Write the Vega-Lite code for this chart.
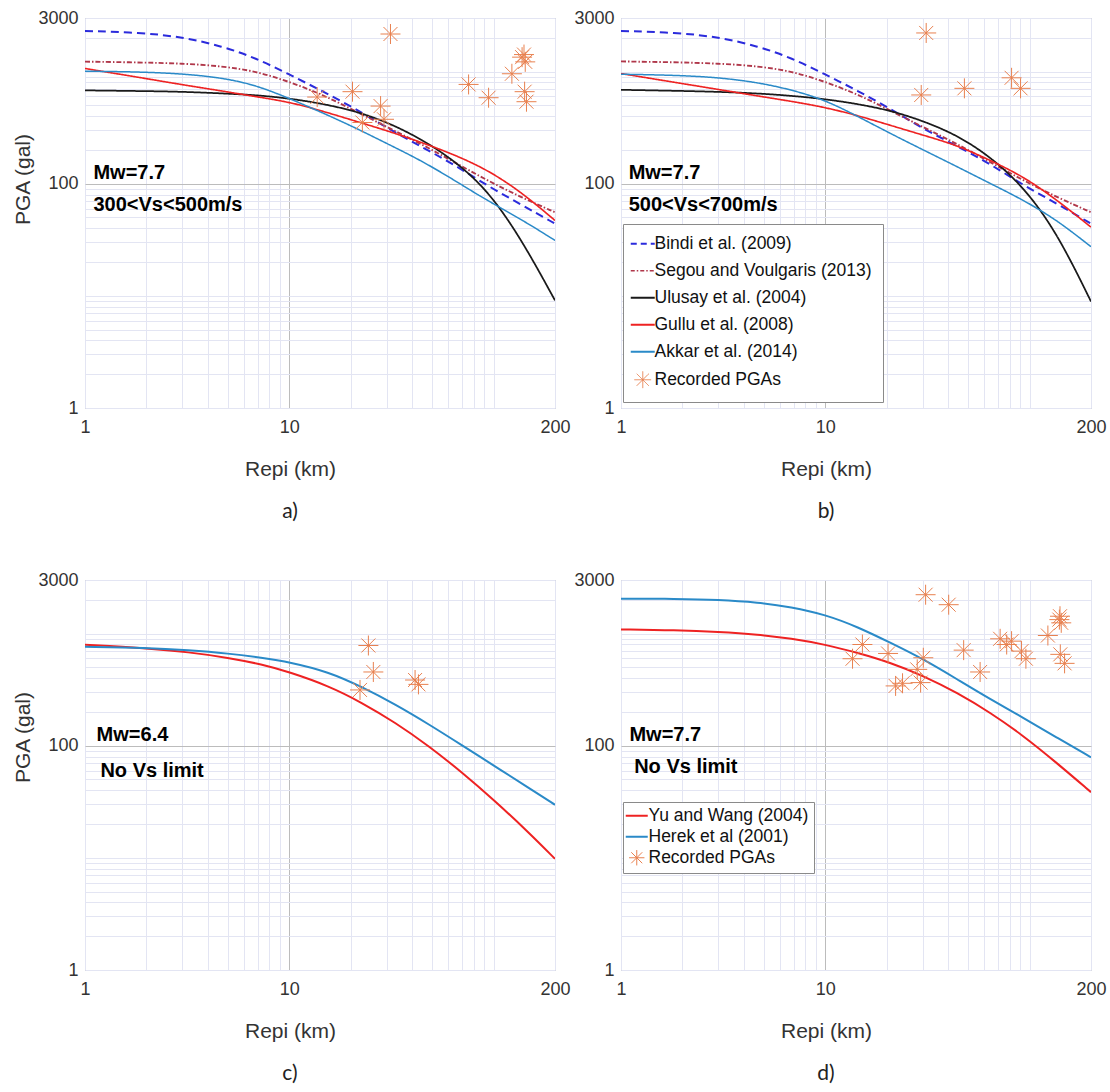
{
  "$schema": "https://vega.github.io/schema/vega-lite/v6.json",
  "background": "white",
  "padding": {"left": 12, "top": 8, "right": 4, "bottom": 0},
  "columns": 2,
  "bounds": "flush",
  "spacing": {"row": 172, "column": 66},
  "resolve": {
    "scale": {"color": "independent", "strokeDash": "independent", "strokeWidth": "independent", "x": "independent", "y": "independent"},
    "legend": {"color": "independent"}
  },
  "config": {
    "view": {"stroke": "#a8a8a8", "strokeWidth": 1},
    "axis": {
      "labelFont": "Liberation Sans", "labelFontSize": 18, "labelColor": "#333333",
      "titleFont": "Liberation Sans", "titleFontSize": 21, "titleFontWeight": "normal", "titleColor": "#333333",
      "ticks": false, "tickSize": 0, "domain": false, "gridWidth": 1, "gridOpacity": 1,
      "labelFlush": false, "labelOverlap": false
    },
    "title": {"font": "Lato", "fontSize": 21, "fontWeight": "normal", "color": "#222222"}
  },
  "datasets": {
    "lines_a": [
      {"model": "Bindi et al. (2009)", "R": 1, "PGA": 2300}, {"model": "Bindi et al. (2009)", "R": 1.85, "PGA": 2230}, {"model": "Bindi et al. (2009)", "R": 3, "PGA": 2030}, {"model": "Bindi et al. (2009)", "R": 4.7, "PGA": 1680}, {"model": "Bindi et al. (2009)", "R": 6.85, "PGA": 1320}, {"model": "Bindi et al. (2009)", "R": 10, "PGA": 942}, {"model": "Bindi et al. (2009)", "R": 14.5, "PGA": 670}, {"model": "Bindi et al. (2009)", "R": 21, "PGA": 468}, {"model": "Bindi et al. (2009)", "R": 30.5, "PGA": 310}, {"model": "Bindi et al. (2009)", "R": 44.5, "PGA": 213}, {"model": "Bindi et al. (2009)", "R": 64.5, "PGA": 147}, {"model": "Bindi et al. (2009)", "R": 94, "PGA": 95}, {"model": "Bindi et al. (2009)", "R": 137, "PGA": 65}, {"model": "Bindi et al. (2009)", "R": 200, "PGA": 44},
      {"model": "Segou and Voulgaris (2013)", "R": 1, "PGA": 1225}, {"model": "Segou and Voulgaris (2013)", "R": 1.85, "PGA": 1205}, {"model": "Segou and Voulgaris (2013)", "R": 3, "PGA": 1180}, {"model": "Segou and Voulgaris (2013)", "R": 4.7, "PGA": 1116}, {"model": "Segou and Voulgaris (2013)", "R": 6.85, "PGA": 1007}, {"model": "Segou and Voulgaris (2013)", "R": 10, "PGA": 811}, {"model": "Segou and Voulgaris (2013)", "R": 14.5, "PGA": 625}, {"model": "Segou and Voulgaris (2013)", "R": 21, "PGA": 445}, {"model": "Segou and Voulgaris (2013)", "R": 30.5, "PGA": 316}, {"model": "Segou and Voulgaris (2013)", "R": 44.5, "PGA": 225}, {"model": "Segou and Voulgaris (2013)", "R": 64.5, "PGA": 155}, {"model": "Segou and Voulgaris (2013)", "R": 94, "PGA": 106}, {"model": "Segou and Voulgaris (2013)", "R": 137, "PGA": 75.5}, {"model": "Segou and Voulgaris (2013)", "R": 200, "PGA": 55.6},
      {"model": "Ulusay et al. (2004)", "R": 1, "PGA": 679}, {"model": "Ulusay et al. (2004)", "R": 1.85, "PGA": 670}, {"model": "Ulusay et al. (2004)", "R": 3, "PGA": 661}, {"model": "Ulusay et al. (2004)", "R": 4.7, "PGA": 638}, {"model": "Ulusay et al. (2004)", "R": 6.85, "PGA": 617}, {"model": "Ulusay et al. (2004)", "R": 10, "PGA": 576}, {"model": "Ulusay et al. (2004)", "R": 14.5, "PGA": 517}, {"model": "Ulusay et al. (2004)", "R": 21, "PGA": 445}, {"model": "Ulusay et al. (2004)", "R": 30.5, "PGA": 351}, {"model": "Ulusay et al. (2004)", "R": 44.5, "PGA": 249}, {"model": "Ulusay et al. (2004)", "R": 64.5, "PGA": 160}, {"model": "Ulusay et al. (2004)", "R": 94, "PGA": 87}, {"model": "Ulusay et al. (2004)", "R": 137, "PGA": 32}, {"model": "Ulusay et al. (2004)", "R": 200, "PGA": 9.1},
      {"model": "Gullu et al. (2008)", "R": 1, "PGA": 1064}, {"model": "Gullu et al. (2008)", "R": 1.85, "PGA": 885}, {"model": "Gullu et al. (2008)", "R": 3, "PGA": 762}, {"model": "Gullu et al. (2008)", "R": 4.7, "PGA": 670}, {"model": "Gullu et al. (2008)", "R": 6.85, "PGA": 597}, {"model": "Gullu et al. (2008)", "R": 10, "PGA": 535}, {"model": "Gullu et al. (2008)", "R": 14.5, "PGA": 445}, {"model": "Gullu et al. (2008)", "R": 21, "PGA": 362}, {"model": "Gullu et al. (2008)", "R": 30.5, "PGA": 295}, {"model": "Gullu et al. (2008)", "R": 44.5, "PGA": 233}, {"model": "Gullu et al. (2008)", "R": 64.5, "PGA": 181}, {"model": "Gullu et al. (2008)", "R": 94, "PGA": 132}, {"model": "Gullu et al. (2008)", "R": 137, "PGA": 84}, {"model": "Gullu et al. (2008)", "R": 200, "PGA": 47},
      {"model": "Akkar et al. (2014)", "R": 1, "PGA": 1007}, {"model": "Akkar et al. (2014)", "R": 1.85, "PGA": 993}, {"model": "Akkar et al. (2014)", "R": 3, "PGA": 955}, {"model": "Akkar et al. (2014)", "R": 4.7, "PGA": 879}, {"model": "Akkar et al. (2014)", "R": 6.85, "PGA": 757}, {"model": "Akkar et al. (2014)", "R": 10, "PGA": 576}, {"model": "Akkar et al. (2014)", "R": 14.5, "PGA": 430}, {"model": "Akkar et al. (2014)", "R": 21, "PGA": 316}, {"model": "Akkar et al. (2014)", "R": 30.5, "PGA": 225}, {"model": "Akkar et al. (2014)", "R": 44.5, "PGA": 160}, {"model": "Akkar et al. (2014)", "R": 64.5, "PGA": 107}, {"model": "Akkar et al. (2014)", "R": 94, "PGA": 70}, {"model": "Akkar et al. (2014)", "R": 137, "PGA": 48}, {"model": "Akkar et al. (2014)", "R": 200, "PGA": 31.2}
    ],
    "lines_b": [
      {"model": "Bindi et al. (2009)", "R": 1, "PGA": 2300}, {"model": "Bindi et al. (2009)", "R": 1.85, "PGA": 2230}, {"model": "Bindi et al. (2009)", "R": 3, "PGA": 2030}, {"model": "Bindi et al. (2009)", "R": 4.7, "PGA": 1680}, {"model": "Bindi et al. (2009)", "R": 6.85, "PGA": 1320}, {"model": "Bindi et al. (2009)", "R": 10, "PGA": 942}, {"model": "Bindi et al. (2009)", "R": 14.5, "PGA": 670}, {"model": "Bindi et al. (2009)", "R": 21, "PGA": 462}, {"model": "Bindi et al. (2009)", "R": 30.5, "PGA": 305}, {"model": "Bindi et al. (2009)", "R": 44.5, "PGA": 215}, {"model": "Bindi et al. (2009)", "R": 64.5, "PGA": 149}, {"model": "Bindi et al. (2009)", "R": 94, "PGA": 96}, {"model": "Bindi et al. (2009)", "R": 137, "PGA": 66}, {"model": "Bindi et al. (2009)", "R": 200, "PGA": 44},
      {"model": "Segou and Voulgaris (2013)", "R": 1, "PGA": 1230}, {"model": "Segou and Voulgaris (2013)", "R": 1.85, "PGA": 1210}, {"model": "Segou and Voulgaris (2013)", "R": 3, "PGA": 1180}, {"model": "Segou and Voulgaris (2013)", "R": 4.7, "PGA": 1116}, {"model": "Segou and Voulgaris (2013)", "R": 6.85, "PGA": 1007}, {"model": "Segou and Voulgaris (2013)", "R": 10, "PGA": 811}, {"model": "Segou and Voulgaris (2013)", "R": 14.5, "PGA": 625}, {"model": "Segou and Voulgaris (2013)", "R": 21, "PGA": 445}, {"model": "Segou and Voulgaris (2013)", "R": 30.5, "PGA": 316}, {"model": "Segou and Voulgaris (2013)", "R": 44.5, "PGA": 225}, {"model": "Segou and Voulgaris (2013)", "R": 64.5, "PGA": 155}, {"model": "Segou and Voulgaris (2013)", "R": 94, "PGA": 106}, {"model": "Segou and Voulgaris (2013)", "R": 137, "PGA": 75.5}, {"model": "Segou and Voulgaris (2013)", "R": 200, "PGA": 55.6},
      {"model": "Ulusay et al. (2004)", "R": 1, "PGA": 687}, {"model": "Ulusay et al. (2004)", "R": 1.85, "PGA": 673}, {"model": "Ulusay et al. (2004)", "R": 3, "PGA": 660}, {"model": "Ulusay et al. (2004)", "R": 4.7, "PGA": 638}, {"model": "Ulusay et al. (2004)", "R": 6.85, "PGA": 608}, {"model": "Ulusay et al. (2004)", "R": 10, "PGA": 568}, {"model": "Ulusay et al. (2004)", "R": 14.5, "PGA": 513}, {"model": "Ulusay et al. (2004)", "R": 21, "PGA": 448}, {"model": "Ulusay et al. (2004)", "R": 30.5, "PGA": 360}, {"model": "Ulusay et al. (2004)", "R": 44.5, "PGA": 269}, {"model": "Ulusay et al. (2004)", "R": 64.5, "PGA": 173}, {"model": "Ulusay et al. (2004)", "R": 94, "PGA": 93}, {"model": "Ulusay et al. (2004)", "R": 137, "PGA": 36}, {"model": "Ulusay et al. (2004)", "R": 200, "PGA": 8.9},
      {"model": "Gullu et al. (2008)", "R": 1, "PGA": 959}, {"model": "Gullu et al. (2008)", "R": 1.85, "PGA": 798}, {"model": "Gullu et al. (2008)", "R": 3, "PGA": 692}, {"model": "Gullu et al. (2008)", "R": 4.7, "PGA": 604}, {"model": "Gullu et al. (2008)", "R": 6.85, "PGA": 542}, {"model": "Gullu et al. (2008)", "R": 10, "PGA": 479}, {"model": "Gullu et al. (2008)", "R": 14.5, "PGA": 404}, {"model": "Gullu et al. (2008)", "R": 21, "PGA": 330}, {"model": "Gullu et al. (2008)", "R": 30.5, "PGA": 269}, {"model": "Gullu et al. (2008)", "R": 44.5, "PGA": 219}, {"model": "Gullu et al. (2008)", "R": 64.5, "PGA": 161}, {"model": "Gullu et al. (2008)", "R": 94, "PGA": 115}, {"model": "Gullu et al. (2008)", "R": 137, "PGA": 71}, {"model": "Gullu et al. (2008)", "R": 200, "PGA": 41},
      {"model": "Akkar et al. (2014)", "R": 1, "PGA": 946}, {"model": "Akkar et al. (2014)", "R": 1.85, "PGA": 927}, {"model": "Akkar et al. (2014)", "R": 3, "PGA": 885}, {"model": "Akkar et al. (2014)", "R": 4.7, "PGA": 798}, {"model": "Akkar et al. (2014)", "R": 6.85, "PGA": 687}, {"model": "Akkar et al. (2014)", "R": 10, "PGA": 557}, {"model": "Akkar et al. (2014)", "R": 14.5, "PGA": 396}, {"model": "Akkar et al. (2014)", "R": 21, "PGA": 278}, {"model": "Akkar et al. (2014)", "R": 30.5, "PGA": 198}, {"model": "Akkar et al. (2014)", "R": 44.5, "PGA": 141}, {"model": "Akkar et al. (2014)", "R": 64.5, "PGA": 100}, {"model": "Akkar et al. (2014)", "R": 94, "PGA": 71}, {"model": "Akkar et al. (2014)", "R": 137, "PGA": 47}, {"model": "Akkar et al. (2014)", "R": 200, "PGA": 27.4}
    ],
    "lines_c": [
      {"model": "Yu and Wang (2004)", "R": 1, "PGA": 793}, {"model": "Yu and Wang (2004)", "R": 1.98, "PGA": 741}, {"model": "Yu and Wang (2004)", "R": 3.22, "PGA": 683}, {"model": "Yu and Wang (2004)", "R": 5.05, "PGA": 608}, {"model": "Yu and Wang (2004)", "R": 7.35, "PGA": 531}, {"model": "Yu and Wang (2004)", "R": 10, "PGA": 454}, {"model": "Yu and Wang (2004)", "R": 15.6, "PGA": 341}, {"model": "Yu and Wang (2004)", "R": 22.6, "PGA": 243}, {"model": "Yu and Wang (2004)", "R": 33, "PGA": 161}, {"model": "Yu and Wang (2004)", "R": 48, "PGA": 100}, {"model": "Yu and Wang (2004)", "R": 70, "PGA": 58}, {"model": "Yu and Wang (2004)", "R": 101, "PGA": 32.5}, {"model": "Yu and Wang (2004)", "R": 148, "PGA": 17}, {"model": "Yu and Wang (2004)", "R": 200, "PGA": 9.8},
      {"model": "Herek et al (2001)", "R": 1, "PGA": 762}, {"model": "Herek et al (2001)", "R": 1.98, "PGA": 746}, {"model": "Herek et al (2001)", "R": 3.22, "PGA": 711}, {"model": "Herek et al (2001)", "R": 5.05, "PGA": 664}, {"model": "Herek et al (2001)", "R": 7.35, "PGA": 608}, {"model": "Herek et al (2001)", "R": 10, "PGA": 557}, {"model": "Herek et al (2001)", "R": 15.6, "PGA": 455}, {"model": "Herek et al (2001)", "R": 22.6, "PGA": 335}, {"model": "Herek et al (2001)", "R": 33, "PGA": 234}, {"model": "Herek et al (2001)", "R": 48, "PGA": 156}, {"model": "Herek et al (2001)", "R": 70, "PGA": 101}, {"model": "Herek et al (2001)", "R": 101, "PGA": 66}, {"model": "Herek et al (2001)", "R": 148, "PGA": 42.3}, {"model": "Herek et al (2001)", "R": 200, "PGA": 29.7}
    ],
    "lines_d": [
      {"model": "Yu and Wang (2004)", "R": 1, "PGA": 1086}, {"model": "Yu and Wang (2004)", "R": 1.85, "PGA": 1070}, {"model": "Yu and Wang (2004)", "R": 3, "PGA": 1035}, {"model": "Yu and Wang (2004)", "R": 4.7, "PGA": 980}, {"model": "Yu and Wang (2004)", "R": 6.8, "PGA": 903}, {"model": "Yu and Wang (2004)", "R": 10, "PGA": 798}, {"model": "Yu and Wang (2004)", "R": 14.4, "PGA": 673}, {"model": "Yu and Wang (2004)", "R": 20.9, "PGA": 549}, {"model": "Yu and Wang (2004)", "R": 30.4, "PGA": 418}, {"model": "Yu and Wang (2004)", "R": 44.2, "PGA": 297}, {"model": "Yu and Wang (2004)", "R": 64.1, "PGA": 198}, {"model": "Yu and Wang (2004)", "R": 93.1, "PGA": 123}, {"model": "Yu and Wang (2004)", "R": 135, "PGA": 71}, {"model": "Yu and Wang (2004)", "R": 200, "PGA": 38.5},
      {"model": "Herek et al (2001)", "R": 1, "PGA": 2046}, {"model": "Herek et al (2001)", "R": 1.85, "PGA": 2040}, {"model": "Herek et al (2001)", "R": 3, "PGA": 2005}, {"model": "Herek et al (2001)", "R": 4.7, "PGA": 1897}, {"model": "Herek et al (2001)", "R": 6.8, "PGA": 1725}, {"model": "Herek et al (2001)", "R": 10, "PGA": 1475}, {"model": "Herek et al (2001)", "R": 14.4, "PGA": 1147}, {"model": "Herek et al (2001)", "R": 20.9, "PGA": 826}, {"model": "Herek et al (2001)", "R": 30.4, "PGA": 588}, {"model": "Herek et al (2001)", "R": 44.2, "PGA": 391}, {"model": "Herek et al (2001)", "R": 64.1, "PGA": 260}, {"model": "Herek et al (2001)", "R": 93.1, "PGA": 178}, {"model": "Herek et al (2001)", "R": 135, "PGA": 119}, {"model": "Herek et al (2001)", "R": 200, "PGA": 78.7}
    ],
    "stars_a": [
      {"model": "Recorded PGAs", "R": 31.3, "PGA": 2160}, {"model": "Recorded PGAs", "R": 20.4, "PGA": 661}, {"model": "Recorded PGAs", "R": 13.7, "PGA": 592}, {"model": "Recorded PGAs", "R": 28.0, "PGA": 492}, {"model": "Recorded PGAs", "R": 22.8, "PGA": 351}, {"model": "Recorded PGAs", "R": 29.1, "PGA": 375}, {"model": "Recorded PGAs", "R": 75.5, "PGA": 767}, {"model": "Recorded PGAs", "R": 94.6, "PGA": 584}, {"model": "Recorded PGAs", "R": 123, "PGA": 955}, {"model": "Recorded PGAs", "R": 138, "PGA": 1343}, {"model": "Recorded PGAs", "R": 143, "PGA": 1219}, {"model": "Recorded PGAs", "R": 141, "PGA": 1416}, {"model": "Recorded PGAs", "R": 142, "PGA": 661}, {"model": "Recorded PGAs", "R": 145, "PGA": 538}
    ],
    "stars_b": [
      {"model": "Recorded PGAs", "R": 31.2, "PGA": 2207}, {"model": "Recorded PGAs", "R": 29.5, "PGA": 618}, {"model": "Recorded PGAs", "R": 48, "PGA": 708}, {"model": "Recorded PGAs", "R": 81.7, "PGA": 879}, {"model": "Recorded PGAs", "R": 90.4, "PGA": 708}
    ],
    "stars_c": [
      {"model": "Recorded PGAs", "R": 24.4, "PGA": 782}, {"model": "Recorded PGAs", "R": 25.8, "PGA": 454}, {"model": "Recorded PGAs", "R": 22.2, "PGA": 314}, {"model": "Recorded PGAs", "R": 41.3, "PGA": 385}, {"model": "Recorded PGAs", "R": 42.9, "PGA": 352}
    ],
    "stars_d": [
      {"model": "Recorded PGAs", "R": 31.0, "PGA": 2218}, {"model": "Recorded PGAs", "R": 40.2, "PGA": 1807}, {"model": "Recorded PGAs", "R": 15.2, "PGA": 798}, {"model": "Recorded PGAs", "R": 13.6, "PGA": 596}, {"model": "Recorded PGAs", "R": 20.3, "PGA": 664}, {"model": "Recorded PGAs", "R": 30.2, "PGA": 608}, {"model": "Recorded PGAs", "R": 28.2, "PGA": 479}, {"model": "Recorded PGAs", "R": 29.3, "PGA": 365}, {"model": "Recorded PGAs", "R": 22.1, "PGA": 341}, {"model": "Recorded PGAs", "R": 23.9, "PGA": 360}, {"model": "Recorded PGAs", "R": 47.6, "PGA": 711}, {"model": "Recorded PGAs", "R": 57.3, "PGA": 454}, {"model": "Recorded PGAs", "R": 71.8, "PGA": 897}, {"model": "Recorded PGAs", "R": 77.3, "PGA": 798}, {"model": "Recorded PGAs", "R": 81.7, "PGA": 855}, {"model": "Recorded PGAs", "R": 91.4, "PGA": 697}, {"model": "Recorded PGAs", "R": 96, "PGA": 596}, {"model": "Recorded PGAs", "R": 123, "PGA": 960}, {"model": "Recorded PGAs", "R": 140, "PGA": 1330}, {"model": "Recorded PGAs", "R": 143, "PGA": 1245}, {"model": "Recorded PGAs", "R": 141, "PGA": 1426}, {"model": "Recorded PGAs", "R": 141.5, "PGA": 652}, {"model": "Recorded PGAs", "R": 148.5, "PGA": 542}
    ],
    "text_a": [{"label": "Mw=7.7", "R": 1.1, "PGA": 124}, {"label": "300<Vs<500m/s", "R": 1.1, "PGA": 64}],
    "text_b": [{"label": "Mw=7.7", "R": 1.09, "PGA": 124}, {"label": "500<Vs<700m/s", "R": 1.09, "PGA": 65}],
    "text_c": [{"label": "Mw=6.4", "R": 1.14, "PGA": 125}, {"label": "No Vs limit", "R": 1.19, "PGA": 60}],
    "text_d": [{"label": "Mw=7.7", "R": 1.1, "PGA": 125}, {"label": "No Vs limit", "R": 1.16, "PGA": 64}]
  },
  "concat": [
    {
      "width": 470, "height": 390,
      "title": {"text": "a)", "orient": "bottom", "anchor": "middle", "frame": "group", "dx": -30, "offset": 22},
      "encoding": {
        "x": {"field": "R", "type": "quantitative", "scale": {"type": "log", "domain": [1, 200], "nice": false},
          "axis": {"values": [1,2,3,4,5,6,7,8,9,10,20,30,40,50,60,70,80,90,100,200], "format": "d",
            "labelExpr": "datum.value == 1 || datum.value == 10 || datum.value == 200 ? datum.label : ''",
            "title": "Repi (km)", "titleX": 205, "titlePadding": 22, "labelPadding": 10,
            "gridColor": {"condition": {"test": "datum.value == 10", "value": "#bcbcbc"}, "value": "#e3e5f3"}}},
        "y": {"field": "PGA", "type": "quantitative", "scale": {"type": "log", "domain": [1, 3000], "nice": false},
          "axis": {"values": [1,2,3,4,5,6,7,8,9,10,20,30,40,50,60,70,80,90,100,200,300,400,500,600,700,800,900,1000,2000,3000], "format": "d",
            "labelExpr": "datum.value == 1 || datum.value == 100 || datum.value == 3000 ? datum.label : ''",
            "title": "PGA (gal)", "titleY": 161, "titleAlign": "center", "titlePadding": 4, "labelPadding": 7,
            "gridColor": {"condition": {"test": "datum.value == 100", "value": "#bcbcbc"}, "value": "#e3e5f3"}}}
      },
      "layer": [
        {"data": {"name": "lines_a"}, "mark": {"type": "line", "interpolate": "basis", "clip": true},
          "encoding": {
            "color": {"field": "model", "type": "nominal", "legend": null, "scale": {"domain": ["Bindi et al. (2009)", "Segou and Voulgaris (2013)", "Ulusay et al. (2004)", "Gullu et al. (2008)", "Akkar et al. (2014)", "Recorded PGAs"], "range": ["#2b2bdc", "#b0374a", "#1a1a1a", "#ee2222", "#2a8ac8", "#e8804f"]}},
            "strokeDash": {"field": "model", "type": "nominal", "legend": null, "scale": {"domain": ["Bindi et al. (2009)", "Segou and Voulgaris (2013)", "Ulusay et al. (2004)", "Gullu et al. (2008)", "Akkar et al. (2014)"], "range": [[8, 5], [5, 2, 1.5, 2], [1, 0], [1, 0], [1, 0]]}},
            "strokeWidth": {"field": "model", "type": "nominal", "legend": null, "scale": {"domain": ["Bindi et al. (2009)", "Segou and Voulgaris (2013)", "Ulusay et al. (2004)", "Gullu et al. (2008)", "Akkar et al. (2014)"], "range": [2, 1.5, 2, 2, 2]}}
          }},
        {"data": {"name": "stars_a"}, "mark": {"type": "point", "shape": "M-1,0L1,0M0,-1L0,1M-0.7,-0.7L0.7,0.7M-0.7,0.7L0.7,-0.7", "filled": false, "size": 400, "strokeWidth": 1, "opacity": 1},
          "encoding": {"color": {"field": "model", "type": "nominal", "legend": null}}},
        {"data": {"name": "text_a"}, "mark": {"type": "text", "align": "left", "baseline": "middle", "font": "Liberation Sans", "fontWeight": "bold", "fontSize": 20, "color": "#000000"},
          "encoding": {"text": {"field": "label", "type": "nominal"}}}
      ]
    },
    {
      "width": 470, "height": 390,
      "title": {"text": "b)", "orient": "bottom", "anchor": "middle", "frame": "group", "dx": -30, "offset": 22},
      "encoding": {
        "x": {"field": "R", "type": "quantitative", "scale": {"type": "log", "domain": [1, 200], "nice": false},
          "axis": {"values": [1,2,3,4,5,6,7,8,9,10,20,30,40,50,60,70,80,90,100,200], "format": "d",
            "labelExpr": "datum.value == 1 || datum.value == 10 || datum.value == 200 ? datum.label : ''",
            "title": "Repi (km)", "titleX": 205, "titlePadding": 22, "labelPadding": 10,
            "gridColor": {"condition": {"test": "datum.value == 10", "value": "#bcbcbc"}, "value": "#e3e5f3"}}},
        "y": {"field": "PGA", "type": "quantitative", "scale": {"type": "log", "domain": [1, 3000], "nice": false},
          "axis": {"values": [1,2,3,4,5,6,7,8,9,10,20,30,40,50,60,70,80,90,100,200,300,400,500,600,700,800,900,1000,2000,3000], "format": "d",
            "labelExpr": "datum.value == 1 || datum.value == 100 || datum.value == 3000 ? datum.label : ''",
            "title": null, "labelPadding": 7,
            "gridColor": {"condition": {"test": "datum.value == 100", "value": "#bcbcbc"}, "value": "#e3e5f3"}}}
      },
      "layer": [
        {"data": {"name": "lines_b"}, "mark": {"type": "line", "interpolate": "basis", "clip": true},
          "encoding": {
            "color": {"field": "model", "type": "nominal", "scale": {"domain": ["Bindi et al. (2009)", "Segou and Voulgaris (2013)", "Ulusay et al. (2004)", "Gullu et al. (2008)", "Akkar et al. (2014)", "Recorded PGAs"], "range": ["#2b2bdc", "#b0374a", "#1a1a1a", "#ee2222", "#2a8ac8", "#e8804f"]},
              "legend": {"orient": "none", "legendX": 2, "legendY": 206, "title": null,
                "labelFont": "Liberation Sans", "labelFontSize": 17.5, "labelColor": "#111111", "labelLimit": 400,
                "symbolSize": 576, "symbolStrokeWidth": 2, "rowPadding": 8, "padding": 11, "labelOffset": 3,
                "strokeColor": "#8a8a8a", "fillColor": "#ffffff",
                "encode": {"symbols": {"update": {
                  "shape": {"signal": "datum.value === 'Recorded PGAs' ? 'M-0.7,0L0.7,0M0,-0.7L0,0.7M-0.5,-0.5L0.5,0.5M-0.5,0.5L0.5,-0.5' : 'stroke'"},
                  "strokeDash": {"signal": "datum.value === 'Bindi et al. (2009)' ? [6, 4] : datum.value === 'Segou and Voulgaris (2013)' ? [4, 2, 1.5, 2] : [1, 0]"},
                  "strokeWidth": {"signal": "datum.value === 'Recorded PGAs' ? 1 : datum.value === 'Segou and Voulgaris (2013)' ? 1.5 : 2"},
                  "fill": {"value": "transparent"},
                  "opacity": {"value": 1}
                }}}}},
            "strokeDash": {"field": "model", "type": "nominal", "legend": null, "scale": {"domain": ["Bindi et al. (2009)", "Segou and Voulgaris (2013)", "Ulusay et al. (2004)", "Gullu et al. (2008)", "Akkar et al. (2014)"], "range": [[8, 5], [5, 2, 1.5, 2], [1, 0], [1, 0], [1, 0]]}},
            "strokeWidth": {"field": "model", "type": "nominal", "legend": null, "scale": {"domain": ["Bindi et al. (2009)", "Segou and Voulgaris (2013)", "Ulusay et al. (2004)", "Gullu et al. (2008)", "Akkar et al. (2014)"], "range": [2, 1.5, 2, 2, 2]}}
          }},
        {"data": {"name": "stars_b"}, "mark": {"type": "point", "shape": "M-1,0L1,0M0,-1L0,1M-0.7,-0.7L0.7,0.7M-0.7,0.7L0.7,-0.7", "filled": false, "size": 400, "strokeWidth": 1, "opacity": 1},
          "encoding": {"color": {"field": "model", "type": "nominal"}}},
        {"data": {"name": "text_b"}, "mark": {"type": "text", "align": "left", "baseline": "middle", "font": "Liberation Sans", "fontWeight": "bold", "fontSize": 20, "color": "#000000"},
          "encoding": {"text": {"field": "label", "type": "nominal"}}}
      ]
    },
    {
      "width": 470, "height": 390,
      "title": {"text": "c)", "orient": "bottom", "anchor": "middle", "frame": "group", "dx": -30, "offset": 22},
      "encoding": {
        "x": {"field": "R", "type": "quantitative", "scale": {"type": "log", "domain": [1, 200], "nice": false},
          "axis": {"values": [1,2,3,4,5,6,7,8,9,10,20,30,40,50,60,70,80,90,100,200], "format": "d",
            "labelExpr": "datum.value == 1 || datum.value == 10 || datum.value == 200 ? datum.label : ''",
            "title": "Repi (km)", "titleX": 205, "titlePadding": 22, "labelPadding": 10,
            "gridColor": {"condition": {"test": "datum.value == 10", "value": "#bcbcbc"}, "value": "#e3e5f3"}}},
        "y": {"field": "PGA", "type": "quantitative", "scale": {"type": "log", "domain": [1, 3000], "nice": false},
          "axis": {"values": [1,2,3,4,5,6,7,8,9,10,20,30,40,50,60,70,80,90,100,200,300,400,500,600,700,800,900,1000,2000,3000], "format": "d",
            "labelExpr": "datum.value == 1 || datum.value == 100 || datum.value == 3000 ? datum.label : ''",
            "title": "PGA (gal)", "titleY": 157, "titleAlign": "center", "titlePadding": 4, "labelPadding": 7,
            "gridColor": {"condition": {"test": "datum.value == 100", "value": "#bcbcbc"}, "value": "#e3e5f3"}}}
      },
      "layer": [
        {"data": {"name": "lines_c"}, "mark": {"type": "line", "interpolate": "basis", "clip": true, "strokeWidth": 2},
          "encoding": {
            "color": {"field": "model", "type": "nominal", "legend": null, "scale": {"domain": ["Yu and Wang (2004)", "Herek et al (2001)", "Recorded PGAs"], "range": ["#ee2222", "#2a8ac8", "#e8804f"]}}
          }},
        {"data": {"name": "stars_c"}, "mark": {"type": "point", "shape": "M-1,0L1,0M0,-1L0,1M-0.7,-0.7L0.7,0.7M-0.7,0.7L0.7,-0.7", "filled": false, "size": 400, "strokeWidth": 1, "opacity": 1},
          "encoding": {"color": {"field": "model", "type": "nominal", "legend": null}}},
        {"data": {"name": "text_c"}, "mark": {"type": "text", "align": "left", "baseline": "middle", "font": "Liberation Sans", "fontWeight": "bold", "fontSize": 20, "color": "#000000"},
          "encoding": {"text": {"field": "label", "type": "nominal"}}}
      ]
    },
    {
      "width": 470, "height": 390,
      "title": {"text": "d)", "orient": "bottom", "anchor": "middle", "frame": "group", "dx": -30, "offset": 22},
      "encoding": {
        "x": {"field": "R", "type": "quantitative", "scale": {"type": "log", "domain": [1, 200], "nice": false},
          "axis": {"values": [1,2,3,4,5,6,7,8,9,10,20,30,40,50,60,70,80,90,100,200], "format": "d",
            "labelExpr": "datum.value == 1 || datum.value == 10 || datum.value == 200 ? datum.label : ''",
            "title": "Repi (km)", "titleX": 205, "titlePadding": 22, "labelPadding": 10,
            "gridColor": {"condition": {"test": "datum.value == 10", "value": "#bcbcbc"}, "value": "#e3e5f3"}}},
        "y": {"field": "PGA", "type": "quantitative", "scale": {"type": "log", "domain": [1, 3000], "nice": false},
          "axis": {"values": [1,2,3,4,5,6,7,8,9,10,20,30,40,50,60,70,80,90,100,200,300,400,500,600,700,800,900,1000,2000,3000], "format": "d",
            "labelExpr": "datum.value == 1 || datum.value == 100 || datum.value == 3000 ? datum.label : ''",
            "title": null, "labelPadding": 7,
            "gridColor": {"condition": {"test": "datum.value == 100", "value": "#bcbcbc"}, "value": "#e3e5f3"}}}
      },
      "layer": [
        {"data": {"name": "lines_d"}, "mark": {"type": "line", "interpolate": "basis", "clip": true, "strokeWidth": 2},
          "encoding": {
            "color": {"field": "model", "type": "nominal", "scale": {"domain": ["Yu and Wang (2004)", "Herek et al (2001)", "Recorded PGAs"], "range": ["#ee2222", "#2a8ac8", "#e8804f"]},
              "legend": {"orient": "none", "legendX": 2, "legendY": 222, "title": null,
                "labelFont": "Liberation Sans", "labelFontSize": 17.5, "labelColor": "#111111", "labelLimit": 400,
                "symbolSize": 484, "symbolStrokeWidth": 2, "rowPadding": 2, "padding": 5, "labelOffset": 3,
                "strokeColor": "#8a8a8a", "fillColor": "#ffffff",
                "encode": {"symbols": {"update": {
                  "shape": {"signal": "datum.value === 'Recorded PGAs' ? 'M-0.7,0L0.7,0M0,-0.7L0,0.7M-0.5,-0.5L0.5,0.5M-0.5,0.5L0.5,-0.5' : 'stroke'"},
                  "strokeWidth": {"signal": "datum.value === 'Recorded PGAs' ? 1 : 2"},
                  "fill": {"value": "transparent"},
                  "opacity": {"value": 1}
                }}}}}
          }},
        {"data": {"name": "stars_d"}, "mark": {"type": "point", "shape": "M-1,0L1,0M0,-1L0,1M-0.7,-0.7L0.7,0.7M-0.7,0.7L0.7,-0.7", "filled": false, "size": 400, "strokeWidth": 1, "opacity": 1},
          "encoding": {"color": {"field": "model", "type": "nominal"}}},
        {"data": {"name": "text_d"}, "mark": {"type": "text", "align": "left", "baseline": "middle", "font": "Liberation Sans", "fontWeight": "bold", "fontSize": 20, "color": "#000000"},
          "encoding": {"text": {"field": "label", "type": "nominal"}}}
      ]
    }
  ]
}
